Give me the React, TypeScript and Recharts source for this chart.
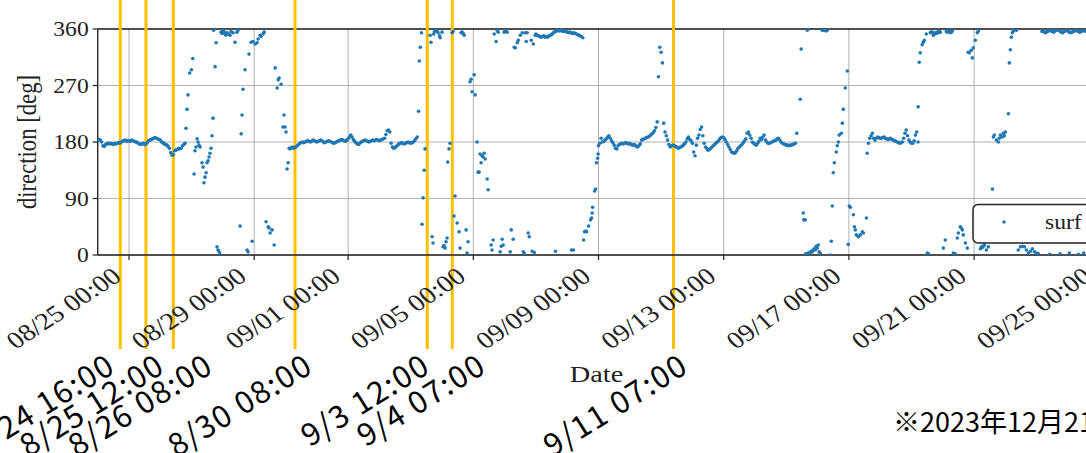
import { CartesianGrid, ReferenceLine, Scatter, ScatterChart, XAxis, YAxis } from "recharts";

// time is counted in hours from 2023-08-24 00:00

// steady stretches, one value per hour from the given start hour
const aug24Start = 0;
const aug24 = [
  182, 184, 183, 180, 174, 173, 176, 177, 178, 177, 178, 177, 176, 178, 177, 178, 179, 178, 180, 181, 182, 183, 181, 182,
  182, 181, 183, 182, 181, 180, 180, 178, 177, 176, 177, 178, 176, 177, 179, 182, 183, 184, 185, 186, 187, 186, 185, 184,
  183, 180, 179, 177, 176, 175, 173, 170, 163, 159, 160, 166, 167, 168, 170, 169, 170, 174, 176, 178,
];

const aug30Start = 150;
const aug30 = [
  170, 171, 172, 174, 176, 178, 179, 180, 179, 180, 181,
  182, 181, 180, 181, 183, 182, 181, 180, 181, 182, 183, 182, 180, 179, 180, 181, 182, 181, 180, 179, 178, 179, 180, 181, 182, 183, 184, 183, 182, 181,
  183, 185, 188, 191, 188,
  184, 181, 179, 177, 176, 178, 180, 181, 182, 183, 182, 181, 180, 181, 182,
  183, 182, 183, 184, 183, 182, 183, 184, 185, 186,
  192, 198, 199, 196,
  178, 172, 170, 171, 173, 175,
  177, 178, 179, 178, 177, 178, 179, 180, 179, 178, 179, 180, 182, 185, 188,
];

const sep07TopStart = 336;
const sep07Top = [
  352, 350, 349, 348, 347, 348, 349, 347, 348, 347, 349, 350, 351, 353, 355, 356, 357, 358, 357,
  358, 357, 356, 357, 356, 355, 354, 355, 354, 353, 354, 353, 352, 351, 350, 349, 348, 346,
];

const sep08Start = 384;
const sep08 = [
  174, 178, 186, 180, 181, 183, 185, 188, 190, 186,
  182, 179, 175, 170, 169, 174, 176, 177, 178, 177,
  178, 179, 178, 177, 178, 176, 175, 176, 175, 173,
  172, 174, 177, 183, 184, 185, 186, 187, 188, 189,
  191, 193, 195, 198, 203, 212, 284, 331, 323, 306,
  210, 196, 190, 183, 176, 172, 174, 175, 174, 173,
  172, 170, 171, 172, 173, 175, 177, 180, 185, 188,
  184, 182, 178, 164, 158, 175, 186, 191, 200, 204,
  190, 178, 172, 170, 167, 168, 170, 172, 174, 176,
  178, 180, 182, 185, 187, 188, 187, 184, 180, 176,
  172, 168, 164, 163, 162, 163, 166, 170, 172, 174,
  176, 179, 182, 185, 194, 196, 191, 186, 180, 178,
  176, 175, 178, 181, 186, 184, 188, 191, 183, 180,
  178, 178, 179, 180, 181, 182, 183, 185, 186, 183,
  180, 178, 177, 176, 175, 175, 174, 175, 175, 176,
  177, 178, 194,
];

const sep17Start = 590;
const sep17 = [
  162, 178, 186, 190, 194, 186, 183, 186, 188, 187, 186, 186, 187, 188, 186, 185, 184, 185, 186, 184,
  183, 182, 181, 180, 179, 178, 179, 180, 186, 194, 199, 190, 183, 180, 178, 178, 182, 191, 196, 180,
];

const sep24TopStart = 724;
const sep24Top = [
  356, 357, 355, 354, 356, 357, 358, 357, 356, 355, 357, 358, 359, 358, 356, 355, 354, 356,
  357, 358, 357, 355, 354, 355, 356, 357, 358, 357, 356, 355, 356, 357, 358, 357, 356,
];

// scattered stretches as [hour, direction]
const aug26Scatter: [number, number][] = [
  [67.7, 202], [68.5, 232], [69.3, 255], [70.5, 290], [71.9, 295], [72.9, 313], [73.9, 129], [74.6, 166],
  [75.4, 172], [76.2, 185], [77.0, 180], [77.7, 175], [78.5, 172], [80.0, 147], [80.8, 140], [81.5, 115],
  [82.3, 124], [83.1, 131], [83.8, 147], [84.6, 150], [85.4, 156], [86.1, 162], [86.9, 170], [87.7, 190],
  [88.4, 218], [88.9, 358], [89.5, 360], [90.0, 300], [90.8, 338], [91.5, 13], [92.3, 8], [93.1, 5],
  [93.8, 1], [94.6, 355], [95.3, 353], [96.1, 358], [96.9, 356], [97.6, 352], [98.4, 350], [99.2, 354],
  [100.7, 352], [101.5, 350], [102.3, 356], [103.8, 354], [105.3, 339], [106.8, 355], [107.6, 358],
  [109.2, 46], [110.0, 193], [110.7, 223], [111.4, 264], [113.0, 295], [114.5, 8], [115.3, 5], [116.0, 320],
  [117.6, 339], [118.4, 22], [119.1, 340], [120.7, 336], [122.2, 338], [123.0, 344], [124.5, 350],
  [125.3, 348], [126.8, 352], [127.6, 355], [129.1, 53], [130.7, 45], [131.4, 43], [132.2, 35], [133.7, 40],
  [135.3, 16], [136.1, 298], [137.6, 266], [138.4, 279], [139.1, 282], [140.6, 272], [142.1, 204],
  [142.9, 223], [143.7, 204], [144.4, 196], [145.2, 137], [146.0, 147], [146.8, 170], [147.5, 169], [149.0, 172],
];

const sep03Scatter: [number, number][] = [
  [246.0, 229], [246.6, 309], [247.4, 331], [248.2, 354], [248.7, 49], [249.5, 91], [250.3, 135], [251.0, 169],
  [254.9, 350], [255.6, 339], [256.4, 29], [257.1, 19], [257.6, 352], [258.3, 356], [259.5, 358], [260.2, 357],
  [261.0, 354], [262.2, 349], [262.6, 346], [264.0, 355], [264.8, 13], [265.6, 15], [266.4, 11], [267.1, 21],
  [267.9, 27], [268.4, 148], [269.4, 169], [270.2, 178], [271.7, 354], [272.5, 356], [273.2, 62], [274.0, 94],
  [275.6, 51], [277.1, 37], [277.9, 11], [278.6, 354], [279.4, 355], [280.2, 353], [281.0, 350], [282.5, 40],
  [283.2, 3], [284.0, 21], [285.5, 276], [286.3, 280], [287.1, 260], [288.6, 287], [289.4, 255], [290.9, 180],
  [291.7, 132], [292.4, 132], [293.2, 161], [294.0, 147], [294.7, 158], [295.5, 156], [296.3, 162],
  [297.1, 153], [298.6, 121], [299.4, 104], [301.7, 16], [302.4, 8], [303.2, 24], [304.0, 352], [305.5, 340],
  [306.3, 358], [307.1, 355], [308.6, 5], [309.4, 14], [310.1, 25], [310.9, 16], [311.7, 355], [312.5, 358],
  [314.0, 355], [316.3, 5], [317.1, 40], [318.6, 25], [319.4, 331], [320.2, 330], [321.7, 338], [322.5, 342],
  [324.0, 350], [325.5, 354], [326.3, 5], [327.0, 3], [327.8, 354], [328.6, 340], [329.3, 354], [330.1, 35],
  [330.9, 29], [332.4, 342], [333.2, 6], [334.0, 336], [334.8, 4], [335.5, 350],
  [351.0, 6], [363.3, 8], [364.8, 8],
  [372.6, 24], [373.3, 37], [374.1, 38], [374.9, 37], [376.4, 46], [377.9, 56], [378.7, 59], [379.1, 67],
  [379.5, 76], [381.0, 102], [381.8, 105], [382.5, 147], [383.3, 154], [383.7, 161],
];

const sep15Scatter: [number, number][] = [
  [538.7, 248], [539.4, 328], [541.0, 67], [541.4, 56], [542.5, 56], [542.9, 2], [544.1, 358], [544.8, 3],
  [545.5, 2], [546.3, 4], [547.1, 6], [547.9, 5], [548.6, 8], [549.4, 10], [550.2, 8], [550.9, 14],
  [551.7, 11], [552.5, 16], [553.2, 5], [554.0, 3], [555.6, 358], [556.3, 358], [557.1, 359], [557.9, 358],
  [558.6, 357], [559.4, 358], [561.7, 0], [562.5, 22], [563.3, 78], [564.0, 131], [564.8, 147], [566.3, 164],
  [567.1, 174], [567.9, 180], [568.6, 191], [570.2, 194], [571.0, 210], [571.7, 232], [573.2, 266],
  [574.8, 293], [575.5, 17], [576.3, 78], [577.1, 76], [579.4, 64], [580.2, 45], [580.9, 40], [581.7, 32],
  [583.2, 29], [584.8, 32], [586.3, 37], [587.1, 35], [589.4, 59],
];

const sep20Scatter: [number, number][] = [
  [629.1, 236], [629.9, 307], [630.7, 322], [632.2, 335], [633.0, 339], [633.8, 342], [635.3, 352], [636.1, 3],
  [636.9, 2], [637.6, 0], [638.4, 354], [639.2, 355], [639.9, 355], [640.7, 350], [641.5, 352], [642.2, 354],
  [643.0, 353], [643.8, 355], [644.6, 354], [645.3, 356], [646.1, 355], [648.4, 11], [649.9, 24], [650.7, 356],
  [651.5, 355], [652.2, 357], [653.0, 356], [653.8, 354], [654.5, 355], [655.3, 357], [656.1, 3], [657.6, 2],
  [659.1, 27], [659.9, 35], [661.4, 45], [662.2, 43], [663.0, 40], [663.7, 32], [665.3, 19], [666.8, 11],
  [667.5, 323], [668.3, 322], [669.8, 326], [670.6, 314], [671.4, 330], [672.9, 342], [674.5, 354],
  [675.3, 357], [676.8, 10], [677.6, 13], [678.3, 12], [679.1, 14], [679.9, 16], [681.4, 8], [682.9, 13],
  [686.0, 105], [686.8, 188], [687.5, 191], [689.1, 183], [690.6, 180], [691.4, 186], [692.1, 191],
  [693.7, 188], [694.4, 194], [695.2, 190], [696.0, 196], [698.3, 225], [699.0, 306], [699.8, 327],
  [700.6, 347], [701.3, 354], [702.1, 357], [703.6, 360], [704.4, 358], [705.9, 8], [707.5, 13], [709.0, 14],
  [710.6, 13], [712.1, 8], [713.6, 3], [715.2, 6], [716.7, 10], [718.3, 5], [719.8, 3], [721.3, 2],
  [730.0, 1], [738.0, 2], [745.0, 3], [752.0, 1], [756.0, 3],
];

// axis ticks
const xTicks = [24, 120, 192, 288, 384, 480, 576, 672, 768];
const xTickLabels = [
  "08/25 00:00", "08/29 00:00", "09/01 00:00", "09/05 00:00", "09/09 00:00",
  "09/13 00:00", "09/17 00:00", "09/21 00:00", "09/25 00:00",
];
const yTicks = [0, 90, 180, 270, 360];

// orange event markers (hours) and their captions
const eventHours = [17.3, 37.0, 58.0, 151.3, 252.7, 271.9, 441.5];
const eventLabels = ["8/24 16:00", "8/25 12:00", "8/26 08:00", "8/30 08:00", "9/3 12:00", "9/4 07:00", "9/11 07:00"];
const eventLabelShift = [-3, 21, 42, 20, 5, 36, 17];

const hourly = (start: number, vals: number[]) => vals.map((d, i) => ({ t: start + i, d }));
const pairs = (list: [number, number][]) => list.map(([t, d]) => ({ t, d }));

const points = [
  ...hourly(aug24Start, aug24),
  ...pairs(aug26Scatter),
  ...hourly(aug30Start, aug30),
  ...pairs(sep03Scatter),
  ...hourly(sep07TopStart, sep07Top),
  ...hourly(sep08Start, sep08),
  ...pairs(sep15Scatter),
  ...hourly(sep17Start, sep17),
  ...pairs(sep20Scatter),
  ...hourly(sep24TopStart, sep24Top),
];

const SERIF = "'Liberation Serif', 'Times New Roman', serif";
const JP = "'Noto Sans CJK JP', 'Noto Sans', sans-serif";
const STRETCH = 1.18;

const XTick = (props: any) => {
  const { x, y, payload } = props;
  const i = xTicks.indexOf(payload.value);
  return (
    <text
      transform={`translate(${x - 6} ${y + 19}) scale(${STRETCH} 1) rotate(-38)`}
      textAnchor="end"
      fontSize={24}
      fontFamily={SERIF}
      fill="#222"
    >
      {xTickLabels[i]}
    </text>
  );
};

const YTick = (props: any) => {
  const { x, y, payload } = props;
  return (
    <text
      transform={`translate(${x - 4} ${y + 7}) scale(${STRETCH} 1)`}
      textAnchor="end"
      fontSize={20}
      fontFamily={SERIF}
      fill="#222"
    >
      {payload.value}
    </text>
  );
};

const EventMark = (props: any) => {
  const { x1, idx } = props;
  const x = Number(x1);
  return (
    <g>
      <line x1={x} x2={x} y1={0} y2={349} stroke="#FFC000" strokeWidth={3} />
      <text
        transform={`translate(${x + eventLabelShift[idx]} 371) rotate(-32)`}
        textAnchor="end"
        fontSize={31}
        letterSpacing={1.5}
        fontFamily={JP}
        fill="#000"
      >
        {eventLabels[idx]}
      </text>
    </g>
  );
};

export default function App() {
  return (
    <div style={{ position: "absolute", left: 0, top: 0, width: 1086, height: 453, overflow: "hidden", background: "#fff" }}>
      <ScatterChart width={1140} height={453} margin={{ top: 29, right: 9.4, bottom: 0, left: 0 }}>
        <CartesianGrid stroke="#b0b0b0" strokeWidth={1} fill="none" />
        <XAxis
          type="number"
          dataKey="t"
          domain={[0, 792]}
          ticks={xTicks}
          height={198}
          tick={<XTick />}
          tickSize={5}
          tickMargin={0}
          tickLine={{ stroke: "#222", strokeWidth: 1.2 }}
          axisLine={{ stroke: "#222", strokeWidth: 1.3 }}
          allowDataOverflow
        />
        <YAxis
          type="number"
          dataKey="d"
          domain={[0, 360]}
          ticks={yTicks}
          width={97.7}
          tick={<YTick />}
          tickSize={5}
          tickMargin={0}
          tickLine={{ stroke: "#222", strokeWidth: 1.2 }}
          axisLine={{ stroke: "#222", strokeWidth: 1.3 }}
          allowDataOverflow
        />
        <ReferenceLine y={360} stroke="#222" strokeWidth={1.3} />
        <Scatter
          data={points}
          isAnimationActive={false}
          shape={(p: any) => <circle cx={p.cx} cy={p.cy} r={1.8} fill="#1f77b4" />}
        />
        {eventHours.map((h, i) => (
          <ReferenceLine key={i} x={h} shape={(p: any) => <EventMark {...p} idx={i} />} />
        ))}
      </ScatterChart>
      <svg width={1086} height={453} style={{ position: "absolute", left: 0, top: 0, pointerEvents: "none" }}>
        <text
          transform={`translate(36 142) scale(${STRETCH} 1) rotate(-90)`}
          textAnchor="middle"
          fontSize={22.7}
          fontFamily={SERIF}
          fill="#222"
        >
          direction [deg]
        </text>
        <text
          transform={`translate(596.5 381.5) scale(${STRETCH} 1)`}
          textAnchor="middle"
          fontSize={24}
          fontFamily={SERIF}
          fill="#222"
        >
          Date
        </text>
        <rect x={973} y={204.5} width={200} height={38.5} rx={5} fill="#fff" fillOpacity={0.8} stroke="#222" strokeWidth={1.5} />
        <circle cx={1004} cy={222} r={1.8} fill="#1f77b4" />
        <text transform={`translate(1045 229) scale(${STRETCH} 1)`} fontSize={20} fontFamily={SERIF} fill="#222">
          surf
        </text>
        <text x={893} y={432} fontSize={27} fontFamily={JP} fill="#000">
          ※2023年12月21日時点
        </text>
      </svg>
    </div>
  );
}
